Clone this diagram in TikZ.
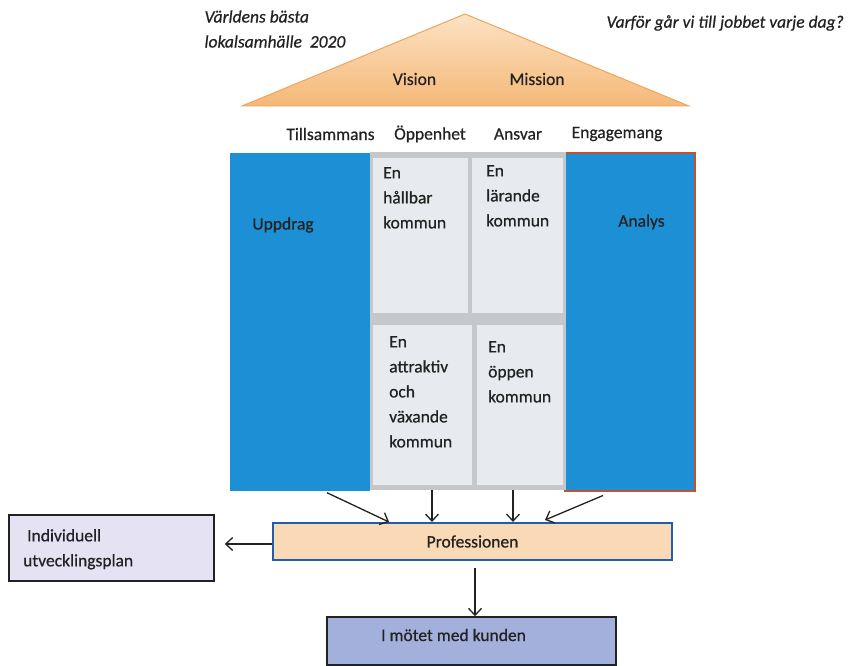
\documentclass[tikz,border=0pt]{standalone}
\usepackage{fontspec}
\setmainfont{Carlito}[FakeBold=0.6]
\usetikzlibrary{positioning, calc, arrows.meta}

\definecolor{roofTop}{HTML}{FCE2C4}
\definecolor{roofBottom}{HTML}{F5B877}
\definecolor{roofEdge}{HTML}{F0A55C}
\definecolor{pillarBlue}{HTML}{1D8FD5}
\definecolor{panelGray}{HTML}{C5C8CB}
\definecolor{cellGray}{HTML}{E7EBEF}
\definecolor{analysEdge}{HTML}{C4532C}
\definecolor{profFill}{HTML}{F9D9B6}
\definecolor{profEdge}{HTML}{1F5FA8}
\definecolor{planFill}{HTML}{E4E2F3}
\definecolor{kundFill}{HTML}{A4B0DC}
\definecolor{lineDark}{HTML}{222222}

\tikzset{
  pillar/.style={fill=pillarBlue, inner sep=0pt, minimum height=337pt},
  cell/.style={fill=cellGray, inner sep=0pt},
  celltext/.style={anchor=north west, align=left, inner sep=0pt},
  boxnode/.style={draw=lineDark, line width=1.5pt, inner sep=0pt},
  arr/.style={lineDark, line width=1.3pt, -{Straight Barb[length=7pt, width=13pt]}}
}

\begin{document}
\begin{tikzpicture}[x=1pt, y=-1pt, font=\fontsize{17.5}{25}\selectfont, text=lineDark]
    \useasboundingbox (0,0) rectangle (854,666);

    % roof
    \shade[top color=roofTop, bottom color=roofBottom, draw=roofEdge, line width=1pt]
        (465,14) -- (689,106) -- (242,106) -- cycle;
    \node (vision) at (414.5,79) {Vision};
    \node (mission) at (537,79) {Mission};

    % questions
    \node[anchor=west, align=left, font=\fontsize{17.5}{25}\selectfont\itshape]
        (goal) at (201,29) {Världens bästa\\lokalsamhälle\ \ 2020};
    \node[anchor=west, font=\fontsize{17.5}{25}\selectfont\itshape]
        (why) at (603,23) {Varför går vi till jobbet varje dag?};

    % values
    \node (tillsammans) at (330.5,134) {Tillsammans};
    \node (oppenhet) at (430,134) {Öppenhet};
    \node (ansvar) at (518,134) {Ansvar};
    \node (engagemang) at (617,134) {Engagemang};

    % pillars
    \node[pillar, minimum width=140pt] (uppdrag) at (300,322) {};
    \node[pillar, minimum width=130pt, draw=analysEdge, line width=2pt] (analys) at (630,322) {};
    \node (uppdragtext) at (283,225) {Uppdrag};
    \node (analystext) at (641.5,222) {Analys};

    % goals between the pillars
    \node[fill=panelGray, inner sep=0pt, minimum width=196pt, minimum height=338pt] (panel) at (468,321) {};
    \node[cell, minimum width=95pt, minimum height=155pt] (hallbar) at (420.5,235.5) {};
    \node[cell, minimum width=91pt, minimum height=155pt] (larande) at (517.5,235.5) {};
    \node[cell, minimum width=99pt, minimum height=160pt] (attraktiv) at (422.5,405) {};
    \node[cell, minimum width=86pt, minimum height=160pt] (oppen) at (520,405) {};
    \node[celltext] (hallbartext) at (383,167) {En\\hållbar\\kommun};
    \node[celltext] (larandetext) at (486,165) {En\\lärande\\kommun};
    \node[celltext] (attraktivtext) at (389,336) {En\\attraktiv\\och\\växande\\kommun};
    \node[celltext] (oppentext) at (488,341) {En\\öppen\\kommun};

    % lower boxes
    \node[boxnode, draw=profEdge, line width=2pt, fill=profFill, minimum width=399pt, minimum height=37pt]
        (prof) at (472.5,541.5) {Professionen};
    \node[boxnode, fill=planFill, minimum width=205pt, minimum height=66pt] (plan) at (111.5,548) {};
    \node[celltext] (plantext) at (23,529) {\hspace*{4pt}Individuell\\utvecklingsplan};
    \node[boxnode, fill=kundFill, minimum width=289pt, minimum height=48pt]
        (kund) at (471.5,641) {};
    \node (kundtext) at (453.5,635) {I mötet med kunden};

    % connectors
    \draw[arr] ([xshift=27pt, yshift=-2pt]uppdrag.south) -- ([xshift=-83.5pt]prof.north);
    \draw[arr] ([xshift=9.5pt, yshift=-5pt]attraktiv.south) -- ([xshift=-40.5pt]prof.north);
    \draw[arr] ([xshift=-7pt, yshift=-5pt]oppen.south) -- ([xshift=40.5pt]prof.north);
    \draw[arr] ([xshift=-27pt, yshift=-4pt]analys.south) -- ([xshift=72.5pt, yshift=2pt]prof.north);
    \draw[arr] ([yshift=-2.5pt]prof.west) -- ($(prof.west -| plan.east)+(10,2.5)$);
    \draw[arr] ([xshift=2.5pt, yshift=-7pt]prof.south) -- ([xshift=2.5pt]prof.south |- kund.north);
\end{tikzpicture}
\end{document}
